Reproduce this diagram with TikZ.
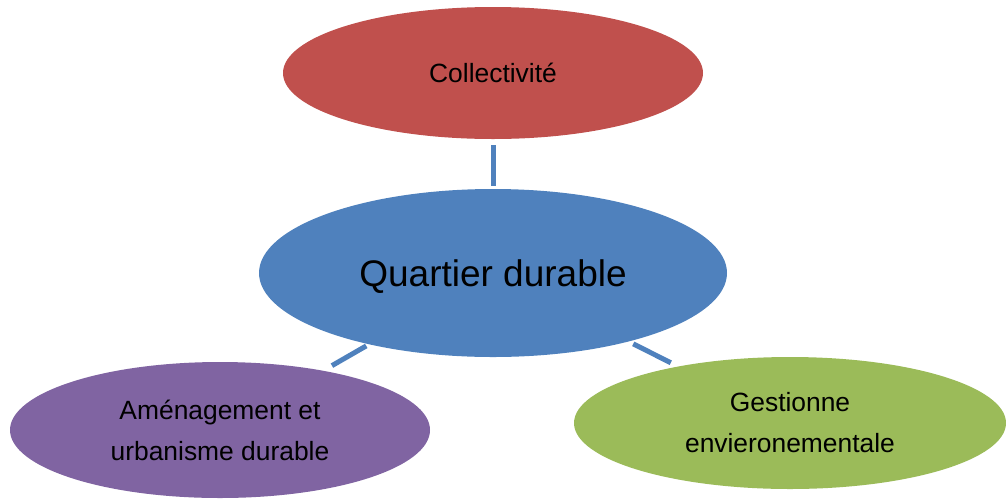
\documentclass[tikz,border=0pt]{standalone}
\usepackage{fontspec}
\setmainfont{Liberation Sans}
\usetikzlibrary{shapes.geometric}
\definecolor{cred}{HTML}{C0504D}
\definecolor{cblue}{HTML}{4F81BD}
\definecolor{cpurple}{HTML}{8064A2}
\definecolor{cgreen}{HTML}{9BBB59}
\tikzset{
  bubble/.style={ellipse, inner sep=0pt, draw=none, align=center, text=black,
    font=\fontsize{26.4}{41}\selectfont},
  link/.style={draw=cblue, line width=5pt}
}
\begin{document}
\begin{tikzpicture}[x=1pt,y=-1pt]
\useasboundingbox (0,0) rectangle (1006,499);
\node[bubble, fill=cred, minimum width=420pt, minimum height=132pt] (col) at (493,73) {Collectivit\'e};
\node[bubble, fill=cblue, minimum width=468pt, minimum height=168pt, font=\fontsize{37}{44}\selectfont, text depth=0pt] (qd) at (493,273) {Quartier durable};
\node[bubble, fill=cpurple, minimum width=420pt, minimum height=136pt] (am) at (220,430) {Am\'enagement et\\urbanisme durable};
\node[bubble, fill=cgreen, minimum width=432pt, minimum height=132pt] (ge) at (790,423) {Gestionne\\envieronementale};
\draw[link, shorten <=6pt, shorten >=3pt] (col.south) -- (qd.north);
\draw[link, shorten <=3pt, shorten >=10pt] (qd) -- (am);
\draw[link, shorten <=5pt, shorten >=8pt] (qd) -- (ge);
\end{tikzpicture}
\end{document}
